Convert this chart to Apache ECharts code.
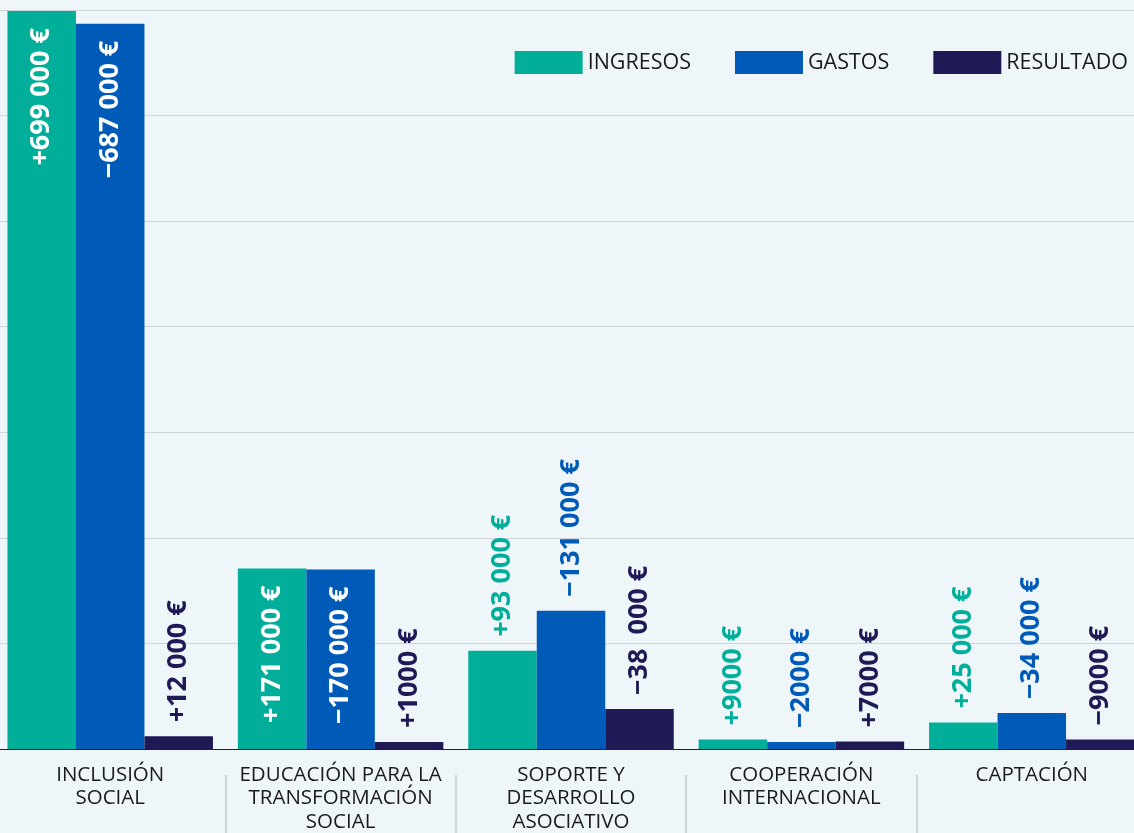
<!DOCTYPE html>
<html>
<head>
<meta charset="utf-8">
<script src="https://cdn.jsdelivr.net/npm/echarts@6/dist/echarts.min.js"></script>
<style>
    html, body { margin: 0; padding: 0; background: #eff6fa; overflow: hidden; }
    #chart { width: 1134px; height: 833px; }
</style>
</head>
<body>
<div id="chart"></div>
<script>
const categories = [
    'INCLUSIÓN\nSOCIAL',
    'EDUCACIÓN PARA LA\nTRANSFORMACIÓN\nSOCIAL',
    'SOPORTE Y\nDESARROLLO\nASOCIATIVO',
    'COOPERACIÓN\nINTERNACIONAL',
    'CAPTACIÓN',
];
const seriesNames = ['INGRESOS', 'GASTOS', 'RESULTADO'];
const ingresos = [699000, 171000, 93000, 9000, 25000];
const gastos = [687000, 170000, 131000, 2000, 34000];
const resultado = [12000, 1000, 38000, 7000, 9000];
const ingresosLabels = ['+699 000 €', '+171 000 €', '+93 000 €', '+9000 €', '+25 000 €'];
const gastosLabels = ['−687 000 €', '−170 000 €', '−131 000 €', '−2000 €', '−34 000 €'];
const resultadoLabels = ['+12 000 €', '+1000 €', '−38  000 €', '+7000 €', '−9000 €'];

const colorList = ['#00ae9a', '#005bb8', '#1f1a55'];
const valueList = [ingresos, gastos, resultado];
const labelList = [ingresosLabels, gastosLabels, resultadoLabels];

const seriesData = valueList.map((vals, idx) => {
    return {
        name: seriesNames[idx],
        type: 'bar',
        barWidth: 68.5,
        barGap: '0%',
        barMinHeight: 7,
        itemStyle: { color: colorList[idx] },
        data: vals.map((v, i) => {
            // tall bars get their label inside, in white
            const inside = v > 150000;
            return {
                value: v,
                label: {
                    show: true,
                    formatter: labelList[idx][i],
                    rotate: 90,
                    position: inside ? 'insideTop' : 'top',
                    align: inside ? 'right' : 'left',
                    verticalAlign: 'middle',
                    distance: inside ? 17 : 14,
                    color: inside ? '#ffffff' : colorList[idx],
                    fontFamily: 'Open Sans',
                    fontWeight: 'bold',
                    fontSize: 27,
                },
            };
        }),
    };
});

const option = {
    backgroundColor: '#eff6fa',
    animation: false,
    color: colorList,
    legend: {
        data: seriesNames,
        icon: 'rect',
        right: 6,
        top: 51,
        padding: 0,
        itemWidth: 68,
        itemHeight: 23,
        itemGap: 44,
        textStyle: {
            color: '#1a1a1a',
            fontFamily: 'Open Sans',
            fontSize: 21.5,
        },
    },
    grid: {
        top: 10,
        bottom: 84,
        left: -5,
        right: -13,
        outerBoundsMode: 'none',
        containLabel: false,
    },
    xAxis: [
        {
            type: 'category',
            data: categories,
            axisLine: {
                lineStyle: { color: '#222222', width: 1 },
            },
            axisTick: { show: false },
            axisLabel: {
                color: '#1a1a1a',
                fontFamily: 'Open Sans',
                fontSize: 20.5,
                lineHeight: 23.5,
                margin: 14,
                interval: 0,
            },
        },
        {
            // separators between category labels
            type: 'category',
            position: 'bottom',
            offset: 26,
            data: categories,
            axisLine: { show: false },
            axisLabel: { show: false },
            axisTick: {
                show: true,
                length: 60,
                lineStyle: { color: '#cfd4d8', width: 2 },
            },
        },
    ],
    yAxis: {
        type: 'value',
        min: 0,
        max: 700000,
        interval: 100000,
        axisLine: { show: false },
        axisTick: { show: false },
        axisLabel: { show: false },
        splitLine: {
            lineStyle: { color: '#cfd4d8', width: 1 },
        },
    },
    series: seriesData,
};

let myChart = echarts.init(document.getElementById('chart'));
myChart.setOption(option);
</script>
</body>
</html>
